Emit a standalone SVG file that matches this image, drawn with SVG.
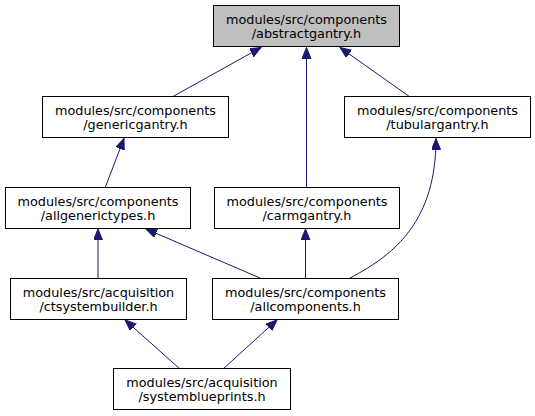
<svg xmlns="http://www.w3.org/2000/svg" width="535" height="416" viewBox="0 0 535 416">
<style>
.node rect{fill:#ffffff;stroke:#000000;stroke-width:1}
.node.root rect{fill:#bfbfbf}
.node text{font-family:"DejaVu Sans",sans-serif;font-size:12.8px;fill:#000000;text-anchor:middle}
.edge{fill:none;stroke:#191970;stroke-width:1;marker-end:url(#arr)}
</style>
<defs>
<marker id="arr" markerUnits="userSpaceOnUse" markerWidth="12" markerHeight="10" refX="11" refY="4.5" orient="auto">
<path d="M0,0 L11,4.5 L0,9 z" fill="#191970" stroke="#191970" stroke-width="1"/>
</marker>
</defs>
<rect width="535" height="416" fill="#ffffff"/>
<g id="connectors">
<path class="edge" d="M172,97 L261,47.5"/>
<path class="edge" d="M306.5,188 L306.5,47.5"/>
<path class="edge" d="M410,97 L340,47.5"/>
<path class="edge" d="M105,188 L124,138.5"/>
<path class="edge" d="M98,278 L98,229"/>
<path class="edge" d="M260,278 L146,229"/>
<path class="edge" d="M305.5,278 L305.5,229"/>
<path class="edge" d="M350,278 C396,254 436,220 436,138.5"/>
<path class="edge" d="M180,369 L125,320"/>
<path class="edge" d="M223,369 L277,320"/>
</g>
<g id="abstractgantry" class="node root">
<rect x="213.5" y="5.5" width="186" height="41"/>
<text x="306.5" y="23.5">modules/src/components</text>
<text x="306.5" y="37.5">/abstractgantry.h</text>
</g>
<g id="genericgantry" class="node">
<rect x="42.5" y="96.5" width="186" height="41"/>
<text x="135.5" y="114.5">modules/src/components</text>
<text x="135.5" y="128.5">/genericgantry.h</text>
</g>
<g id="tubulargantry" class="node">
<rect x="344.5" y="96.5" width="186" height="41"/>
<text x="437.5" y="114.5">modules/src/components</text>
<text x="437.5" y="128.5">/tubulargantry.h</text>
</g>
<g id="allgenerictypes" class="node">
<rect x="5.5" y="187.5" width="185" height="41"/>
<text x="98" y="205.5">modules/src/components</text>
<text x="98" y="219.5">/allgenerictypes.h</text>
</g>
<g id="carmgantry" class="node">
<rect x="214.5" y="187.5" width="185" height="41"/>
<text x="307" y="205.5">modules/src/components</text>
<text x="307" y="219.5">/carmgantry.h</text>
</g>
<g id="ctsystembuilder" class="node">
<rect x="10.5" y="278.5" width="176" height="41"/>
<text x="98.5" y="296.5">modules/src/acquisition</text>
<text x="98.5" y="310.5">/ctsystembuilder.h</text>
</g>
<g id="allcomponents" class="node">
<rect x="212.5" y="278.5" width="186" height="41"/>
<text x="305.5" y="296.5">modules/src/components</text>
<text x="305.5" y="310.5">/allcomponents.h</text>
</g>
<g id="systemblueprints" class="node">
<rect x="113.5" y="368.5" width="177" height="41"/>
<text x="202" y="386.5">modules/src/acquisition</text>
<text x="202" y="400.5">/systemblueprints.h</text>
</g>
</svg>
